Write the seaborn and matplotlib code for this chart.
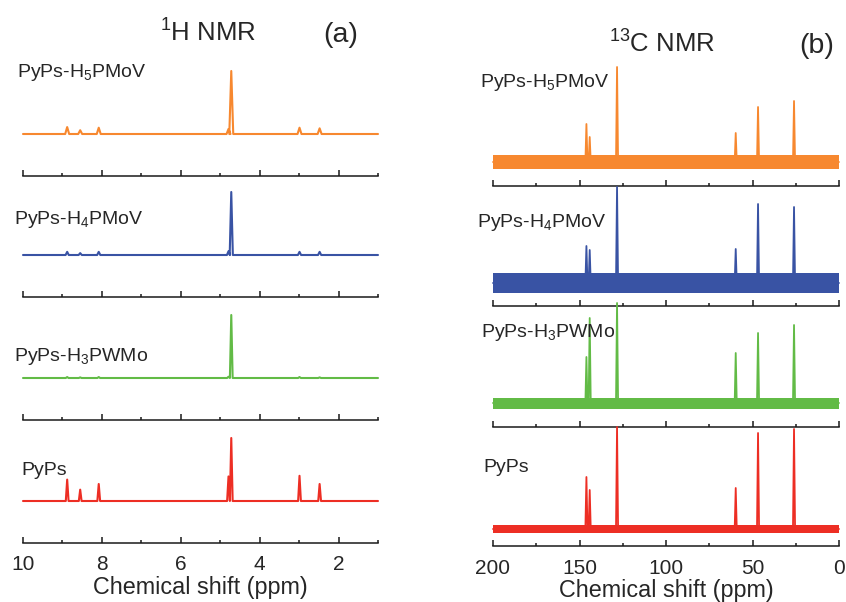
import numpy as np
import pandas as pd
import matplotlib
matplotlib.use("Agg")
import matplotlib.pyplot as plt
from matplotlib.ticker import MultipleLocator
import seaborn as sns

sns.set_style("ticks")
plt.rcParams["font.family"] = ["Liberation Sans", "DejaVu Sans"]
plt.rcParams["mathtext.fontset"] = "custom"
plt.rcParams["mathtext.rm"] = "Liberation Sans"
plt.rcParams["mathtext.it"] = "Liberation Sans:italic"
plt.rcParams["mathtext.default"] = "regular"

# ---- samples (top to bottom) ----
samples = ["PyPs-H$_5$PMoV", "PyPs-H$_4$PMoV", "PyPs-H$_3$PWMo", "PyPs"]
colors = ["#F7882F", "#3953A4", "#62BB46", "#ED2E24"]

# ---- 1H NMR peak table: shift (ppm) and intensity relative to the D2O/HOD line ----
h_shifts = [8.88, 8.55, 8.08, 4.79, 4.72, 2.99, 2.48]
h_h5pmov = [0.11, 0.06, 0.10, 0.08, 1.00, 0.10, 0.09]
h_h4pmov = [0.05, 0.03, 0.05, 0.06, 1.00, 0.05, 0.05]
h_h3pwmo = [0.015, 0.01, 0.015, 0.02, 1.00, 0.015, 0.01]
h_pyps = [0.34, 0.18, 0.27, 0.39, 1.00, 0.40, 0.27]
h_halfwidth = [0.05, 0.04, 0.035, 0.035]

# ---- 13C NMR peak table: shift (ppm) and intensity ----
c_shifts = [146.0, 144.1, 128.3, 59.7, 46.8, 26.0]
c_h5pmov = [0.38, 0.25, 0.95, 0.29, 0.55, 0.61]
c_h4pmov = [0.37, 0.33, 0.96, 0.34, 0.79, 0.76]
c_h3pwmo = [0.46, 0.85, 1.00, 0.50, 0.70, 0.78]
c_pyps = [0.52, 0.39, 1.02, 0.41, 0.96, 1.00]
# baseline noise level (half band) of each 13C spectrum
c_noise = [0.07, 0.10, 0.055, 0.04]

h_sets = [h_h5pmov, h_h4pmov, h_h3pwmo, h_pyps]
c_sets = [c_h5pmov, c_h4pmov, c_h3pwmo, c_pyps]


def stick_trace(shifts, heights, half_width, lo, hi):
    """Line through baseline and the apex of each resonance."""
    xs, ys = [lo], [0.0]
    for s, h in sorted(zip(shifts, heights)):
        xs += [s - half_width, s, s + half_width]
        ys += [0.0, h, 0.0]
    xs.append(hi)
    ys.append(0.0)
    return pd.DataFrame({"shift": xs, "intensity": ys})


W, H = 846, 602
fig = plt.figure(figsize=(W / 100, H / 100), dpi=100)


def add_box(x0, x1, ybot, height):
    return fig.add_axes([x0 / W, 1 - ybot / H, (x1 - x0) / W, height / H])


def style_axis(ax, show_labels):
    sns.despine(ax=ax, left=True, top=True, right=True)
    ax.set_yticks([])
    ax.set_ylabel("")
    ax.spines["bottom"].set_linewidth(1.1)
    ax.spines["bottom"].set_color("#1a1a1a")
    ax.tick_params(axis="x", which="major", direction="in", length=4.2,
                   width=1.1, color="#1a1a1a", labelsize=15, pad=9,
                   labelbottom=show_labels)
    ax.tick_params(axis="x", which="minor", direction="in", length=2.2,
                   width=1.1, color="#1a1a1a", labelbottom=False)
    ax.patch.set_alpha(0)
    if not show_labels:
        ax.set_xlabel("")


# ---- (a) 1H NMR ----
h_spines = [176, 297, 420, 543]
h_height, h_offset, h_scale = 110, 42, 63
for i, (name, col) in enumerate(zip(samples, colors)):
    ax = add_box(23, 378, h_spines[i], h_height)
    df = stick_trace(h_shifts, h_sets[i], h_halfwidth[i], 1.0, 10.0)
    sns.lineplot(data=df, x="shift", y="intensity", sort=False,
                 estimator=None, color=col, lw=1.5, ax=ax, clip_on=False)
    ax.set_xlim(10, 1)
    ax.set_ylim(-h_offset / h_scale, (h_height - h_offset) / h_scale)
    ax.xaxis.set_major_locator(MultipleLocator(2))
    ax.xaxis.set_minor_locator(MultipleLocator(1))
    last = i == len(samples) - 1
    style_axis(ax, last)
    if last:
        ax.set_xlabel("Chemical shift (ppm)", fontsize=16.8, labelpad=1)

h_label_pos = [(17, 77), (14, 224), (14, 361), (21, 475)]
for (x, y), name in zip(h_label_pos, samples):
    fig.text(x / W, 1 - y / H, name, fontsize=14, va="baseline", ha="left")

fig.text(208 / W, 1 - 42 / H, "$^{1}$H NMR", fontsize=18.5, va="baseline", ha="center")
fig.text(341 / W, 1 - 42 / H, "(a)", fontsize=20.5, va="baseline", ha="center")

# ---- (b) 13C NMR ----
c_spines = [186, 306, 427, 546]
c_height, c_scale = 115, 100
c_offsets = [24, 23, 24, 17]
for i, (name, col) in enumerate(zip(samples, colors)):
    ax = add_box(493, 839, c_spines[i], c_height)
    ax.fill_between([0, 200], [-c_noise[i]] * 2, [c_noise[i]] * 2,
                    color=col, lw=0)
    df = stick_trace(c_shifts, c_sets[i], 0.6, 0.0, 200.0)
    sns.lineplot(data=df, x="shift", y="intensity", sort=False,
                 estimator=None, color=col, lw=1.3, ax=ax, clip_on=False)
    ax.set_xlim(200, 0)
    ax.set_ylim(-c_offsets[i] / c_scale, (c_height - c_offsets[i]) / c_scale)
    ax.xaxis.set_major_locator(MultipleLocator(50))
    ax.xaxis.set_minor_locator(MultipleLocator(25))
    last = i == len(samples) - 1
    style_axis(ax, last)
    if last:
        ax.set_xlabel("Chemical shift (ppm)", fontsize=16.8, labelpad=1)

c_label_pos = [(480, 87), (477, 227), (481, 337), (483, 472)]
for (x, y), name in zip(c_label_pos, samples):
    fig.text(x / W, 1 - y / H, name, fontsize=14, va="baseline", ha="left")

fig.text(662 / W, 1 - 53 / H, "$^{13}$C NMR", fontsize=18.5, va="baseline", ha="center")
fig.text(817 / W, 1 - 53 / H, "(b)", fontsize=20.5, va="baseline", ha="center")

fig.savefig("out.png", dpi=100)
